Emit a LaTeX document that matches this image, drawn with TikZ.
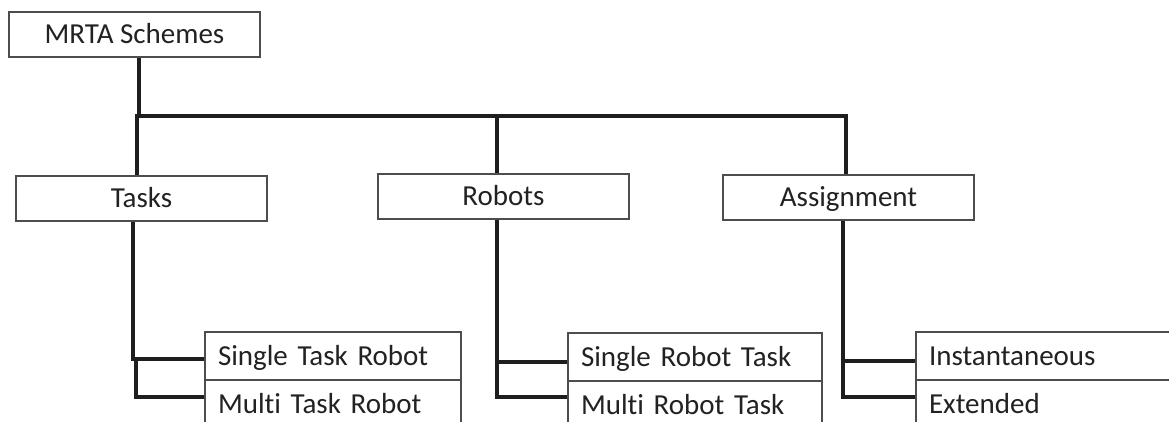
\documentclass[tikz,border=0pt]{standalone}
\usepackage{fontspec}
\setmainfont[Ligatures=NoCommon,RawFeature=-calt]{Carlito}
\definecolor{boxgray}{HTML}{4D4D4D}
\definecolor{txt}{HTML}{222222}
\definecolor{linek}{HTML}{1E1E1E}
\begin{document}
\begin{tikzpicture}[x=1pt,y=-1pt,
  box/.style={draw=boxgray, line width=1.2pt, fill=white,
    minimum width=251pt, minimum height=45pt, inner sep=0pt,
    text height=18.5pt, text depth=0pt, text=txt,
    font=\fontsize{29}{34}\selectfont},
  subbox/.style={box, minimum height=48pt, align=left, inner xsep=13pt},
  conn/.style={line width=4.3pt, draw=linek, line join=miter}]
\clip (0,0) rectangle (1169,421);

% top level and categories
\node[box] (mrta)   at (134.5,34.5)  {MRTA Schemes};
\node[box] (tasks)  at (141.5,198.5) {Tasks};
\node[box] (robots) at (503.5,196.5) {Robots};
\node[box] (assign) at (848.5,197.5) {Assignment};

% sub-categories
\node[subbox, text width=230pt] (str)  at (333,356)  {Single Task Robot};
\node[subbox, text width=230pt] (mtr)  at (333,404)  {Multi Task Robot};
\node[subbox, text width=228pt] (srt)  at (695,357)  {Single Robot Task};
\node[subbox, text width=228pt] (mrt)  at (695,405)  {Multi Robot Task};
\node[subbox, text width=230pt] (inst) at (1044,356) {Instantaneous};
\node[subbox, text width=230pt] (ext)  at (1044,404) {Extended};

% bus from the root to the three categories
\coordinate (bus) at (846,116);
\coordinate (tk)  at (137,114);
\coordinate (rb)  at (497,116);
\draw[conn] ([xshift=4.5pt]mrta.south) |- (bus) -- (bus |- assign.north);
\draw[conn] (tk) -- (tk |- tasks.north);
\draw[conn] (rb) -- (rb |- robots.north);

% Tasks branches
\coordinate (t1) at (133,359);
\coordinate (t2) at (136,397);
\draw[conn] (t1 |- tasks.south) -- (t1) -- (t1 -| str.west);
\draw[conn] (t2 |- t1) -- (t2) -- (t2 -| mtr.west);

% Robots branches
\coordinate (r1) at (497,362);
\coordinate (r2) at (497,397);
\draw[conn] (r1 |- robots.south) -- (r1) -- (r1 -| srt.west);
\draw[conn] (r1) -- (r2) -- (r2 -| mrt.west);

% Assignment branches
\coordinate (a1) at (843,361);
\coordinate (a2) at (843,397);
\draw[conn] (a1 |- assign.south) -- (a1) -- (a1 -| inst.west);
\draw[conn] (a1) -- (a2) -- (a2 -| ext.west);
\end{tikzpicture}
\end{document}
